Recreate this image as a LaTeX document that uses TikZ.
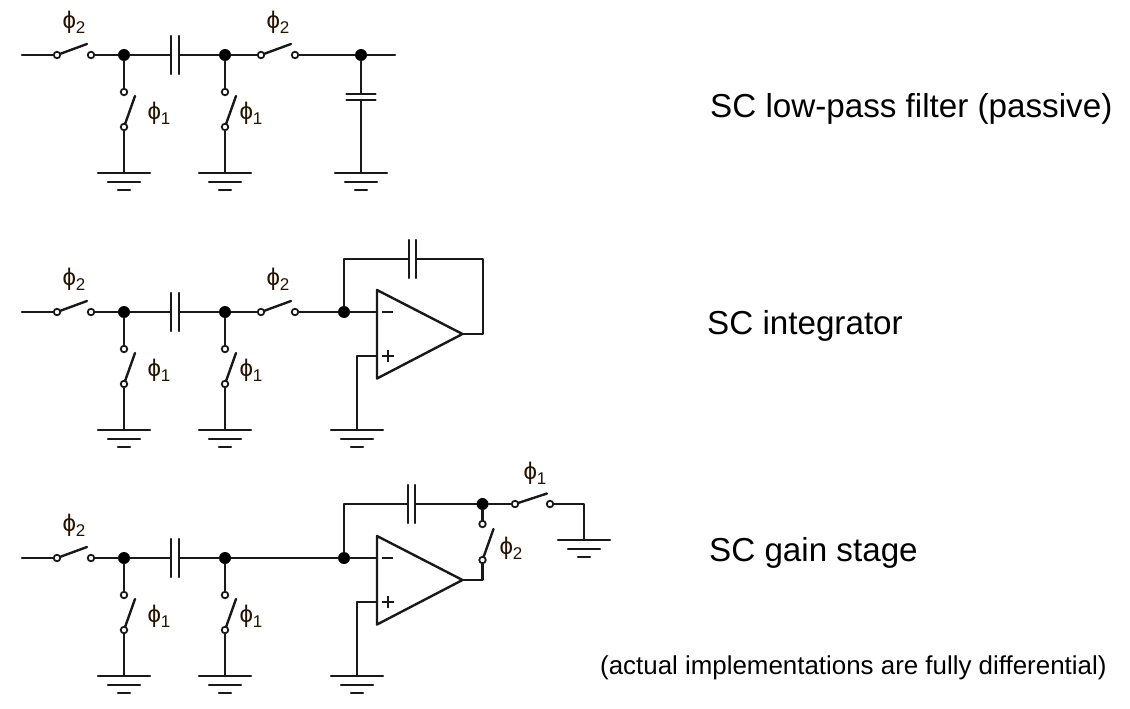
\documentclass[tikz,border=0pt]{standalone}
\usepackage{fontspec}
\setmainfont{Liberation Sans}
\newcommand{\phisym}[1]{{\fontsize{24}{24}\selectfont ϕ}\raisebox{-5pt}{\fontsize{17}{17}\selectfont #1}}
\tikzset{
  wire/.style={line width=2.4pt,line cap=round,line join=round,draw=black!90},
  contact/.style={circle,draw=black!90,fill=white,line width=1.8pt,minimum size=6.5pt,inner sep=0pt,outer sep=0pt},
  junction/.style={circle,fill=black,minimum size=12pt,inner sep=0pt,outer sep=0pt},
  philabel/.style={inner sep=0pt,text=black!85!orange},
  caption/.style={inner sep=0pt,anchor=west,font=\fontsize{33.2}{35}\selectfont},
  smallcap/.style={inner sep=0pt,anchor=west,font=\fontsize{25.9}{28}\selectfont}
}
% ground symbol at a named coordinate
\newcommand{\gnd}[1]{%
  \draw[wire] ([shift={(-26,0)}]#1) -- ([shift={(26,0)}]#1);
  \draw[wire] ([shift={(-16,9)}]#1) -- ([shift={(16,9)}]#1);
  \draw[wire] ([shift={(-6,17)}]#1) -- ([shift={(6,17)}]#1);}
% capacitor with horizontal wires: plates at named coordinates
\newcommand{\hcap}[2]{%
  \draw[wire] ([shift={(0,-19)}]#1) -- ([shift={(0,19)}]#1);
  \draw[wire] ([shift={(0,-19)}]#2) -- ([shift={(0,19)}]#2);}
% common input section; #1 prefix, #2 row y
\newcommand{\frontend}[2]{%
\begin{scope}[shift={(0,#2)}]
  \coordinate (#1in) at (22,0);
  \node[contact] (#1sa) at (57,0) {};
  \node[contact] (#1sb) at (91,0) {};
  \coordinate (#1la) at (87,-11);
  \node[junction] (#1d1) at (124,0) {};
  \coordinate (#1c1) at (171,0);
  \coordinate (#1c2) at (179,0);
  \node[junction] (#1d2) at (225,0) {};
  \node[contact] (#1v1a) at (124,37) {};
  \node[contact] (#1v1b) at (124,72) {};
  \coordinate (#1l1) at (135,41);
  \coordinate (#1g1) at (124,118);
  \node[contact] (#1v2a) at (225,37) {};
  \node[contact] (#1v2b) at (225,72) {};
  \coordinate (#1l2) at (236,41);
  \coordinate (#1g2) at (225,118);
  \node[philabel] (#1p0) at (74,-33) {\phisym{2}};
  \node[philabel] (#1p1) at (159,58) {\phisym{1}};
  \node[philabel] (#1p2) at (251,58) {\phisym{1}};
  \draw[wire] (#1in) -- (#1sa);
  \draw[wire] (#1sa) -- (#1la);
  \draw[wire] (#1sb) -- (#1d1) -- (#1c1);
  \draw[wire] (#1c2) -- (#1d2);
  \hcap{#1c1}{#1c2}
  \draw[wire] (#1d1) -- (#1v1a);
  \draw[wire] (#1v1b) -- (#1l1);
  \draw[wire] (#1v1b) -- (#1g1);
  \draw[wire] (#1d2) -- (#1v2a);
  \draw[wire] (#1v2b) -- (#1l2);
  \draw[wire] (#1v2b) -- (#1g2);
  \gnd{#1g1}
  \gnd{#1g2}
\end{scope}}
% op amp: #1 prefix, #2 row y
\newcommand{\opamp}[2]{%
\begin{scope}[shift={(0,#2)}]
  \coordinate (#1ta) at (377,-22);
  \coordinate (#1tb) at (377,66.5);
  \coordinate (#1tip) at (462.5,22);
  \coordinate (#1minus) at (377,0);
  \coordinate (#1plus) at (377,44);
  \coordinate (#1pb) at (357,44);
  \coordinate (#1g) at (357,118);
  \node[junction] (#1d3) at (344,0) {};
  \draw[wire] (#1ta) -- (#1tb) -- (#1tip) -- cycle;
  \draw[wire] (#1d3) -- (#1minus);
  \draw[wire] (#1plus) -- (#1pb) -- (#1g);
  \draw[line width=2.6pt,draw=black!90] (382,0) -- (393,0);
  \draw[line width=2.6pt,draw=black!90] (382,44) -- (394,44) (388,38) -- (388,50);
  \gnd{#1g}
\end{scope}}
\begin{document}
\begin{tikzpicture}[x=1pt,y=-1pt]
\useasboundingbox (0,0) rectangle (1130,709);

% ---- row 1: passive low-pass
\frontend{a}{55}
\node[contact] (asc) at (261,55) {};
\node[contact] (asd) at (295,55) {};
\coordinate (ale) at (291,44);
\node[junction] (ad3) at (361,55) {};
\coordinate (aout) at (395,55);
\coordinate (acu) at (361,94);
\coordinate (acl) at (361,100);
\coordinate (ag3) at (361,173);
\node[philabel] (ap3) at (278,22) {\phisym{2}};
\draw[wire] (ad2) -- (asc);
\draw[wire] (asc) -- (ale);
\draw[wire] (asd) -- (ad3) -- (aout);
\draw[wire] (ad3) -- (acu);
\draw[wire] (acl) -- (ag3);
\draw[wire] ([shift={(-14.5,0)}]acu) -- ([shift={(14.5,0)}]acu);
\draw[wire] ([shift={(-14.5,0)}]acl) -- ([shift={(14.5,0)}]acl);
\gnd{ag3}

% ---- row 2: integrator
\frontend{b}{312}
\opamp{b}{312}
\node[contact] (bsc) at (261,312) {};
\node[contact] (bsd) at (295,312) {};
\coordinate (ble) at (291,301);
\node[philabel] (bp3) at (278,279) {\phisym{2}};
\coordinate (bf1) at (344,259);
\coordinate (bc1) at (409,259);
\coordinate (bc2) at (416,259);
\coordinate (bf2) at (483,259);
\coordinate (bf3) at (483,334);
\draw[wire] (bd2) -- (bsc);
\draw[wire] (bsc) -- (ble);
\draw[wire] (bsd) -- (bd3);
\draw[wire] (bd3) -- (bf1) -- (bc1);
\hcap{bc1}{bc2}
\draw[wire] (bc2) -- (bf2) -- (bf3) -- (btip);

% ---- row 3: gain stage
\frontend{c}{558}
\opamp{c}{558}
\coordinate (cf1) at (344,504);
\coordinate (cc1) at (408,504);
\coordinate (cc2) at (415,504);
\node[junction] (cd4) at (482.5,504) {};
\node[contact] (cse) at (515,504) {};
\node[contact] (csf) at (550,504) {};
\coordinate (clf) at (547,493.5);
\coordinate (ccorner) at (584,504);
\coordinate (cg3) at (584,540);
\node[contact] (cvc) at (482.5,524) {};
\node[contact] (cvd) at (482.5,560) {};
\coordinate (clv) at (493.5,529);
\coordinate (cob) at (482.5,580);
\node[philabel] (cp3) at (535,473) {\phisym{1}};
\node[philabel] (cp4) at (511,548) {\phisym{2}};
\draw[wire] (cd2) -- (cd3);
\draw[wire] (cd3) -- (cf1) -- (cc1);
\hcap{cc1}{cc2}
\draw[wire] (cc2) -- (cd4) -- (cse);
\draw[wire] (cse) -- (clf);
\draw[wire] (csf) -- (ccorner) -- (cg3);
\gnd{cg3}
\draw[wire] (cd4) -- (cvc);
\draw[wire] (cvd) -- (clv);
\draw[wire] (cvd) -- (cob) -- (ctip);

% ---- captions
\node[caption] (t1) at (710,108.5) {SC low-pass filter (passive)};
\node[caption] (t2) at (707,325.5) {SC integrator};
\node[caption] (t3) at (709,552.5) {SC gain stage};
\node[smallcap] (t4) at (600,668) {(actual implementations are fully differential)};
\end{tikzpicture}
\end{document}
